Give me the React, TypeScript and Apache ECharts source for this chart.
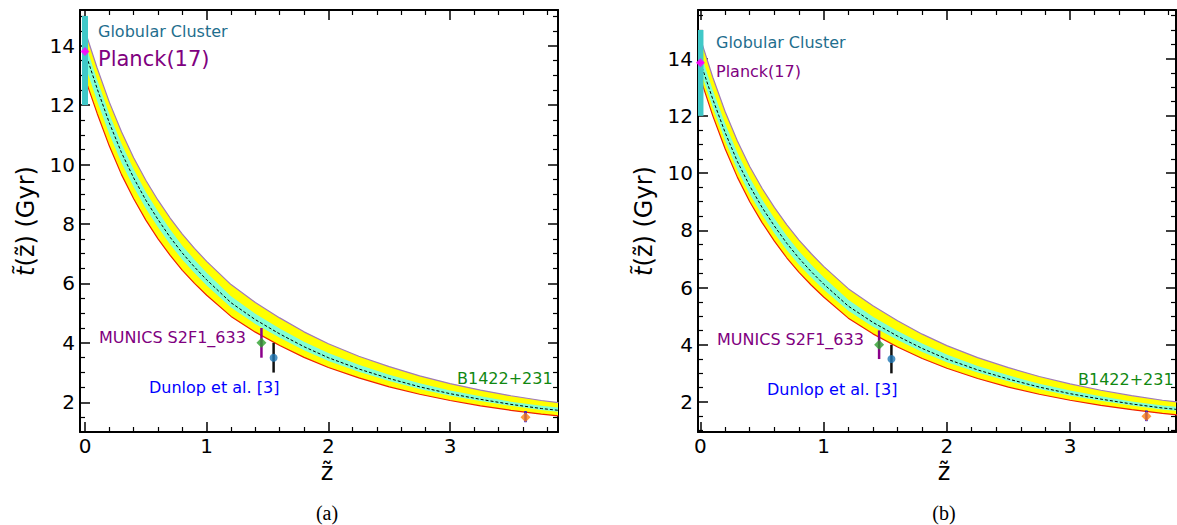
import React, { useEffect, useRef } from "react";
import * as echarts from "echarts";

// ---------- data ----------
const Z = [0, 0.1, 0.2, 0.3, 0.4, 0.5, 0.6, 0.7, 0.8, 0.9, 1.0, 1.2, 1.4, 1.6, 1.8, 2.0, 2.25, 2.5, 2.75, 3.0, 3.25, 3.5, 3.75, 3.89];

// panel (a)
const A_CENTER = [13.8, 12.55, 11.4, 10.4, 9.55, 8.8, 8.15, 7.55, 7.02, 6.55, 6.12, 5.35, 4.78, 4.3, 3.87, 3.5, 3.12, 2.8, 2.52, 2.29, 2.1, 1.93, 1.79, 1.73];
const A_UPPER = [14.5, 13.25, 12.1, 11.1, 10.23, 9.47, 8.8, 8.2, 7.66, 7.18, 6.74, 5.96, 5.36, 4.84, 4.37, 3.97, 3.55, 3.2, 2.89, 2.63, 2.41, 2.22, 2.06, 1.99];
const A_LOWER = [12.9, 11.72, 10.62, 9.66, 8.85, 8.13, 7.5, 6.94, 6.44, 6.0, 5.6, 4.89, 4.36, 3.91, 3.51, 3.17, 2.82, 2.52, 2.27, 2.06, 1.88, 1.73, 1.6, 1.54];
const A_INNER_UP = [14.1, 12.85, 11.7, 10.7, 9.84, 9.08, 8.42, 7.81, 7.27, 6.8, 6.36, 5.57, 4.98, 4.48, 4.04, 3.66, 3.26, 2.93, 2.64, 2.4, 2.2, 2.02, 1.88, 1.82];
const A_INNER_LO = [13.35, 12.14, 11.03, 10.06, 9.24, 8.52, 7.89, 7.31, 6.8, 6.35, 5.93, 5.19, 4.63, 4.17, 3.75, 3.39, 3.03, 2.72, 2.45, 2.22, 2.04, 1.88, 1.74, 1.68];

// panel (b)
const B_CENTER = [13.86, 12.58, 11.42, 10.4, 9.55, 8.8, 8.15, 7.55, 7.02, 6.55, 6.12, 5.35, 4.78, 4.3, 3.87, 3.5, 3.12, 2.8, 2.52, 2.29, 2.1, 1.93, 1.79, 1.73];
const B_UPPER = [14.7, 13.35, 12.15, 11.12, 10.23, 9.47, 8.8, 8.2, 7.66, 7.18, 6.74, 5.96, 5.36, 4.84, 4.37, 3.97, 3.55, 3.2, 2.89, 2.63, 2.41, 2.22, 2.06, 1.99];
const B_LOWER = [13.3, 12.0, 10.85, 9.85, 9.0, 8.27, 7.62, 7.04, 6.53, 6.08, 5.67, 4.93, 4.38, 3.92, 3.52, 3.18, 2.82, 2.52, 2.27, 2.06, 1.88, 1.73, 1.6, 1.54];
const B_INNER_UP = [14.2, 12.9, 11.73, 10.71, 9.84, 9.08, 8.42, 7.81, 7.27, 6.8, 6.36, 5.57, 4.98, 4.48, 4.04, 3.66, 3.26, 2.93, 2.64, 2.4, 2.2, 2.02, 1.88, 1.82];
const B_INNER_LO = [13.58, 12.3, 11.15, 10.12, 9.27, 8.54, 7.9, 7.31, 6.8, 6.35, 5.93, 5.19, 4.63, 4.17, 3.75, 3.39, 3.03, 2.72, 2.45, 2.22, 2.04, 1.88, 1.74, 1.68];

// observational points: [z, t, tLow, tHigh]
const GLOBULAR = [[0, 12, 15]];
const PLANCK_A = [[0, 13.8]];
const PLANCK_B = [[0, 13.86]];
const MUNICS = [[1.45, 4.0, 3.5, 4.5]];
const DUNLOP = [[1.55, 3.5, 3.0, 4.0]];
const B1422 = [[3.62, 1.5, 1.33, 1.7]];

// axes
const X_TICKS = [0, 1, 2, 3];
const Y_TICKS = [2, 4, 6, 8, 10, 12, 14];
const A_XRANGE = [-0.041, 3.887];
const B_XRANGE = [-0.02, 3.86];
const A_YRANGE = [1.0, 15.2];
const B_YRANGE = [0.95, 15.7];

// ---------- helpers ----------
const FONT = "DejaVu Sans";

function zip(xs: number[], ys: number[]) {
  return xs.map((x, i) => [x, ys[i]]);
}

function bandSeries(xi: number, yi: number, lo: number[], hi: number[], color: string, z: number) {
  return {
    type: "custom",
    xAxisIndex: xi,
    yAxisIndex: yi,
    z,
    silent: true,
    clip: true,
    data: [[Z[0], lo[0]]],
    renderItem: (_p: any, api: any) => {
      const pts: number[][] = [];
      for (let i = 0; i < Z.length; i++) pts.push(api.coord([Z[i], hi[i]]));
      for (let i = Z.length - 1; i >= 0; i--) pts.push(api.coord([Z[i], lo[i]]));
      return { type: "polygon", shape: { points: pts }, style: { fill: color, stroke: null } };
    },
  };
}

function lineSeries(xi: number, yi: number, ys: number[], color: string, width: number, z: number, dashed = false) {
  return {
    type: "line",
    xAxisIndex: xi,
    yAxisIndex: yi,
    z,
    silent: true,
    symbol: "none",
    showSymbol: false,
    data: zip(Z, ys),
    lineStyle: { color, width, type: dashed ? [3, 2] : "solid" },
  };
}

function vbarSeries(xi: number, yi: number, data: number[][], color: string, width: number, z: number) {
  return {
    type: "custom",
    xAxisIndex: xi,
    yAxisIndex: yi,
    z,
    silent: true,
    clip: true,
    data,
    encode: { x: 0, y: [data[0].length - 2, data[0].length - 1] },
    renderItem: (_p: any, api: any) => {
      const n = data[0].length;
      const a = api.coord([api.value(0), api.value(n - 2)]);
      const b = api.coord([api.value(0), api.value(n - 1)]);
      return {
        type: "line",
        shape: { x1: a[0], y1: a[1], x2: b[0], y2: b[1] },
        style: { stroke: color, lineWidth: width },
      };
    },
  };
}

function hbarSeries(xi: number, yi: number, data: number[][], dz: number, color: string, width: number, z: number) {
  return {
    type: "custom",
    xAxisIndex: xi,
    yAxisIndex: yi,
    z,
    silent: true,
    clip: false,
    data,
    renderItem: (_p: any, api: any) => {
      const a = api.coord([api.value(0) - dz, api.value(1)]);
      const b = api.coord([api.value(0) + dz, api.value(1)]);
      return {
        type: "line",
        shape: { x1: a[0], y1: a[1], x2: b[0], y2: b[1] },
        style: { stroke: color, lineWidth: width },
      };
    },
  };
}

function scatterSeries(xi: number, yi: number, data: number[][], symbol: string, size: number, color: string, z: number) {
  return {
    type: "scatter",
    xAxisIndex: xi,
    yAxisIndex: yi,
    z,
    silent: true,
    symbol,
    symbolSize: size,
    data: data.map((d) => [d[0], d[1]]),
    itemStyle: { color },
  };
}

function panelSeries(k: number, center: number[], upper: number[], lower: number[], iu: number[], il: number[], planck: number[][]) {
  const xi = k * 2;
  const yi = k * 2;
  return [
    bandSeries(xi, yi, lower, upper, "#ffff00", 1),
    bandSeries(xi, yi, il, iu, "#80ffd4", 2),
    lineSeries(xi, yi, upper, "#a07ab8", 1.2, 3),
    lineSeries(xi, yi, lower, "#f02000", 1.2, 3),
    lineSeries(xi, yi, center, "#000000", 1, 4, true),
    vbarSeries(xi, yi, GLOBULAR, "#40c8c8", 6, 5),
    vbarSeries(xi, yi, MUNICS, "#8b008b", 2.5, 6),
    vbarSeries(xi, yi, DUNLOP, "#111111", 2.5, 6),
    vbarSeries(xi, yi, B1422, "#0000ff", 2.5, 6),
    hbarSeries(xi, yi, planck, 0.025, "#ff00ff", 2, 6),
    scatterSeries(xi, yi, planck, "diamond", 9, "#ff00ff", 7),
    scatterSeries(xi, yi, MUNICS, "diamond", 10, "#2ca02c", 7),
    scatterSeries(xi, yi, DUNLOP, "circle", 8, "#1f77b4", 7),
    scatterSeries(xi, yi, B1422, "diamond", 10, "#ff7f0e", 7),
  ];
}

function xAxes(gridIndex: number, range: number[]) {
  const common: any = {
    type: "value",
    gridIndex,
    min: range[0],
    max: range[1],
    splitNumber: 5,
    splitLine: { show: false },
    axisLine: { show: true, onZero: false, lineStyle: { color: "#000", width: 2 } },
    axisTick: { show: true, inside: true, length: 10, customValues: X_TICKS, lineStyle: { color: "#000", width: 1.5 } },
    minorTick: { show: true, splitNumber: 5, length: 5, lineStyle: { color: "#000", width: 1.2 } },
  };
  return [
    {
      ...common,
      position: "bottom",
      axisLabel: { show: true, customValues: X_TICKS, margin: 4, fontSize: 20, color: "#000", fontFamily: FONT },
    },
    { ...common, position: "top", axisLabel: { show: false } },
  ];
}

function yAxes(gridIndex: number, range: number[]) {
  const common: any = {
    type: "value",
    gridIndex,
    min: range[0],
    max: range[1],
    splitNumber: 7,
    splitLine: { show: false },
    axisLine: { show: true, onZero: false, lineStyle: { color: "#000", width: 2 } },
    axisTick: { show: true, inside: true, length: 10, customValues: Y_TICKS, lineStyle: { color: "#000", width: 1.5 } },
    minorTick: { show: true, splitNumber: 4, length: 5, lineStyle: { color: "#000", width: 1.2 } },
  };
  return [
    {
      ...common,
      position: "left",
      axisLabel: { show: true, customValues: Y_TICKS, margin: 5, fontSize: 20, color: "#000", fontFamily: FONT },
    },
    { ...common, position: "right", axisLabel: { show: false } },
  ];
}

function txt(x: number, y: number, text: string, size: number, color: string, extra: any = {}) {
  return {
    type: "text",
    x,
    y,
    silent: true,
    style: { text, fontSize: size, fill: color, fontFamily: FONT, align: "left", verticalAlign: "middle", ...extra },
  };
}

function panelGraphics(ox: number, isA: boolean, xLabelX: number, caption: string) {
  const g: any[] = [];
  g.push(txt(ox + 18, isA ? 31 : 42, "Globular Cluster", 16, "#1f6e8e"));
  g.push(txt(ox + 18, isA ? 59 : 71, "Planck(17)", isA ? 21 : 16, "#800080"));
  g.push(txt(ox + 19, isA ? 337 : 339, "MUNICS S2F1_633", 16, "#800080"));
  g.push(txt(ox + 69, isA ? 387 : 389, "Dunlop et al. [3]", 16, "#0000ff"));
  g.push(txt(ox + (isA ? 377 : 380), isA ? 378 : 379, "B1422+231", 16, "#118811"));
  // y axis title
  g.push({
    type: "text",
    x: ox - 54,
    y: 221,
    rotation: Math.PI / 2,
    silent: true,
    style: {
      text: "{i|t\u0303}(z\u0303) (Gyr)",
      fontSize: 24,
      fill: "#000",
      fontFamily: FONT,
      align: "center",
      verticalAlign: "middle",
      rich: { i: { fontStyle: "italic", fontSize: 24, fontFamily: FONT, fill: "#000" } },
    },
  });
  // x axis title
  g.push(txt(xLabelX, 472, "z\u0303", 24, "#000", { align: "center" }));
  // caption
  g.push(txt(xLabelX, 513, caption, 20, "#000", { align: "center", fontFamily: "Liberation Serif" }));
  return g;
}

function buildOption(): any {
  return {
    animation: false,
    backgroundColor: "#ffffff",
    grid: [
      { left: 80, top: 10, width: 478, height: 422 },
      { left: 698, top: 10, width: 478, height: 422 },
    ],
    xAxis: [...xAxes(0, A_XRANGE), ...xAxes(1, B_XRANGE)],
    yAxis: [...yAxes(0, A_YRANGE), ...yAxes(1, B_YRANGE)],
    series: [
      ...panelSeries(0, A_CENTER, A_UPPER, A_LOWER, A_INNER_UP, A_INNER_LO, PLANCK_A),
      ...panelSeries(1, B_CENTER, B_UPPER, B_LOWER, B_INNER_UP, B_INNER_LO, PLANCK_B),
    ],
    graphic: [...panelGraphics(80, true, 327, "(a)"), ...panelGraphics(698, false, 944, "(b)")],
  };
}

export default function App() {
  const ref = useRef<HTMLDivElement>(null);
  useEffect(() => {
    if (!ref.current) return;
    const chart = echarts.init(ref.current, null, { renderer: "svg" });
    chart.setOption(buildOption());
    return () => chart.dispose();
  }, []);
  return (
    <div
      ref={ref}
      style={{ position: "fixed", left: 0, top: 0, width: 1177, height: 525, background: "#fff" }}
    />
  );
}
